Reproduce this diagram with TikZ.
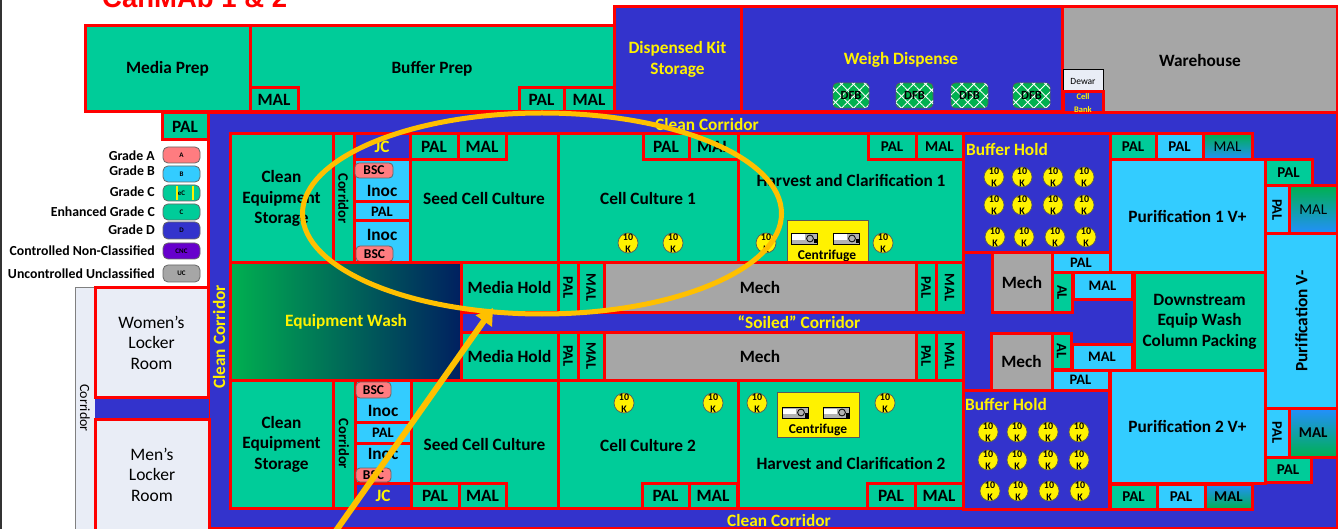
\documentclass[tikz,border=0pt]{standalone}
\usepackage{fontspec}
\setmainfont{Carlito}
\newfontfamily\titlefont{Liberation Sans}
\usetikzlibrary{arrows.meta,patterns.meta}
\definecolor{rmred}{HTML}{FF0000}
\definecolor{gradeA}{HTML}{FF7C80}
\definecolor{gradeB}{HTML}{33CCFF}
\definecolor{gradeC}{HTML}{00CC99}
\definecolor{gradeD}{HTML}{3333CC}
\definecolor{gradeCNC}{HTML}{6600CC}
\definecolor{gradeUC}{HTML}{A6A6A6}
\definecolor{paleroom}{HTML}{E9EDF6}
\definecolor{dfbgreen}{HTML}{00B050}
\definecolor{washnavy}{HTML}{002060}
\definecolor{markgold}{HTML}{FFC000}
\tikzset{
  room/.style={draw=rmred,line width=3pt},
  rmA/.style={room,fill=gradeB},
  rmC/.style={room,fill=gradeC},
  rmD/.style={room,fill=gradeD},
  rmUC/.style={room,fill=gradeUC},
  rmpale/.style={room,fill=paleroom},
  lbl/.style={inner sep=0pt,align=center,font=\fontsize{17.3}{20.5}\selectfont\bfseries},
  medlbl/.style={inner sep=0pt,align=center,font=\fontsize{15}{17}\selectfont\bfseries},
  smlbl/.style={inner sep=0pt,align=center,font=\fontsize{14.5}{16}\selectfont\bfseries},
  ylbl/.style={lbl,text=yellow},
  plainlbl/.style={inner sep=0pt,align=center,font=\fontsize{17.5}{20.5}\selectfont},
  keylbl/.style={inner sep=0pt,anchor=east,font=\fontsize{13.8}{15}\selectfont\bfseries},
  pill/.style={draw=gray!80!black,line width=0.8pt,rounded corners=5pt,
    inner sep=0pt,font=\fontsize{7}{8}\selectfont\bfseries},
  bsc/.style={draw=gray!80!black,line width=0.8pt,fill=gradeA,rounded corners=4pt},
  vessel/.style={circle,draw=gray!70!black,line width=0.7pt,fill=yellow,minimum size=20pt,
    inner sep=-4pt,align=center,font=\fontsize{10}{11.5}\selectfont\bfseries},
  dfb/.style={draw=gray!70!black,line width=0.7pt,fill=dfbgreen,rounded corners=4pt},
  centbox/.style={draw=gray!70!black,line width=0.8pt,fill=yellow},
  centicon/.pic={
    \draw [black,line width=0.8pt,fill=gray!60] (0,0) rectangle (26,11);
    \fill [white] (1,1.5) rectangle (14,7);
    \draw [black,line width=0.8pt] (19,5.5) circle (3.4);
    \fill [black] (23,6) rectangle (25.5,10.5);
  },
}
\begin{document}
\begin{tikzpicture}[x=1pt,y=-1pt]
\useasboundingbox (0,0) rectangle (1338,529);
\clip (0,0) rectangle (1338,529);
\fill [white] (0,0) rectangle (1338,529);
\fill [black!80] (0,0) rectangle (2,529);
\node [anchor=base west,inner sep=0pt,text=red,font=\titlefont\fontsize{27.5}{32}\selectfont\bfseries] (title) at (102,8) {CanMAb 1 \& 2};
% corridors behind everything
\draw [rmD] (208,113) rectangle (1337.5,528);
\draw [draw=gray,line width=1pt,fill=paleroom] (75,288) rectangle (95,530);
\node [rotate=-90,inner sep=0pt,font=\fontsize{14}{16}\selectfont] (corrleft) at (85,408) {Corridor};
\fill [gradeD] (95,395) rectangle (209,420);
% top row
\draw [rmC] (85,26) rectangle (250,112) node[midway,lbl] (mediaprep) {Media Prep};
\draw [rmC] (250,26) rectangle (614,112) node[midway,lbl] (bufferprep) {Buffer Prep};
\draw [rmC] (250,88) rectangle (298,112) node[midway,lbl] (malT1) {MAL};
\draw [rmC] (519,88) rectangle (564,112) node[midway,lbl] (palT2) {PAL};
\draw [rmC] (564,88) rectangle (614,112) node[midway,lbl] (malT2) {MAL};
\draw [rmD] (614,7) rectangle (741,112) node[midway,ylbl] (kitstore) {Dispensed Kit\\Storage};
\draw [rmD] (741,7) rectangle (1062,112);
\node [ylbl] (weigh) at (901,60) {Weigh Dispense};
\draw [rmUC] (1062,7) rectangle (1337.5,112.5);
\node [lbl] (warehouse) at (1200,60) {Warehouse};
\draw [black,line width=1pt,fill=paleroom] (1063,70) rectangle (1103,92) node[midway,inner sep=0pt,font=\fontsize{9.5}{11}\selectfont] (dewar) {Dewar};
\draw [rmD] (1063,92) rectangle (1103,113);
\node [inner sep=0pt,align=center,text=yellow,font=\fontsize{8.5}{12.5}\selectfont\bfseries] (cellbank) at (1083,103) {Cell\\Bank};
\draw [rmC] (162,113) rectangle (208,140) node[midway,lbl] (palL) {PAL};
% DFB benches
\draw [dfb,postaction={pattern={Lines[angle=45,distance=8.5pt,line width=0.9pt]},pattern color=white},postaction={pattern={Lines[angle=-45,distance=8.5pt,line width=0.9pt]},pattern color=white}] (833,83) rectangle (869,108) node[midway,inner sep=0pt,font=\fontsize{12.5}{14}\selectfont\bfseries] (dfbA) {DFB};
\draw [dfb,postaction={pattern={Lines[angle=45,distance=8.5pt,line width=0.9pt]},pattern color=white},postaction={pattern={Lines[angle=-45,distance=8.5pt,line width=0.9pt]},pattern color=white}] (896,83) rectangle (933,108) node[midway,inner sep=0pt,font=\fontsize{12.5}{14}\selectfont\bfseries] (dfbB) {DFB};
\draw [dfb,postaction={pattern={Lines[angle=45,distance=8.5pt,line width=0.9pt]},pattern color=white},postaction={pattern={Lines[angle=-45,distance=8.5pt,line width=0.9pt]},pattern color=white}] (951,83) rectangle (988,108) node[midway,inner sep=0pt,font=\fontsize{12.5}{14}\selectfont\bfseries] (dfbC) {DFB};
\draw [dfb,postaction={pattern={Lines[angle=45,distance=8.5pt,line width=0.9pt]},pattern color=white},postaction={pattern={Lines[angle=-45,distance=8.5pt,line width=0.9pt]},pattern color=white}] (1013,83) rectangle (1050,108) node[midway,inner sep=0pt,font=\fontsize{12.5}{14}\selectfont\bfseries] (dfbD) {DFB};
\node [ylbl] (cleantop) at (707,124) {Clean Corridor};
\node [ylbl] (cleanbot) at (779,520) {Clean Corridor};
\node [ylbl,rotate=90] (cleanleft) at (219,337) {Clean Corridor};
\node [ylbl] (soiled) at (799,322) {``Soiled'' Corridor};
% lockers
\draw [rmpale] (95,288) rectangle (208,397) node[midway,plainlbl] (women) {Women’s\\Locker\\Room};
\draw [rmpale] (95,419) rectangle (209,530) node[midway,plainlbl] (men) {Men’s\\Locker\\Room};
% upper suite
\draw [rmC] (230,134) rectangle (333,263) node[midway,lbl] (storeA) {Clean\\Equipment\\Storage};
\draw [rmC] (333,134) rectangle (354,263) node[midway,rotate=-90,smlbl] (corrA) {Corridor};
\draw [rmD] (354,134) rectangle (410,160) node[midway,ylbl] (jcA) {JC};
\draw [rmA] (354,160) rectangle (410,202);
\node [lbl] (inocA) at (382,191) {Inoc};
\draw [rmA] (354,202) rectangle (410,221) node[midway,smlbl] (palIA) {PAL};
\draw [rmA] (354,221) rectangle (410,263);
\node [lbl] (inocB) at (382,235) {Inoc};
\draw [bsc] (355,163) rectangle (393,178) node[midway,inner sep=0pt,font=\fontsize{13.5}{14}\selectfont\bfseries] (bscA) {BSC};
\draw [bsc] (356,246) rectangle (393,261.5) node[midway,inner sep=0pt,font=\fontsize{13.5}{14}\selectfont\bfseries] (bscB) {BSC};
\draw [rmC] (410,134) rectangle (558,263) node[midway,lbl] (seedA) {Seed Cell Culture};
\draw [rmC] (410,134) rectangle (458,160) node[midway,lbl] (palSA) {PAL};
\draw [rmC] (458,134) rectangle (506,160) node[midway,lbl] (malSA) {MAL};
\draw [rmC] (558,134) rectangle (738,263) node[midway,lbl] (cultureA) {Cell Culture 1};
\draw [rmC] (643,134) rectangle (689,160) node[midway,lbl] (palCA) {PAL};
\draw [rmC] (689,134) rectangle (738,160) node[midway,lbl] (malCA) {MAL};
\draw [rmC] (738,134) rectangle (963,263);
\node [lbl] (harvestA) at (851,180) {Harvest and Clarification 1};
\draw [rmC] (868,134) rectangle (916,160) node[midway,medlbl] (palHA) {PAL};
\draw [rmC] (916,134) rectangle (963,160) node[midway,medlbl] (malHA) {MAL};
\draw [centbox] (787,220) rectangle (868,262);
\node [inner sep=0pt,font=\fontsize{13.5}{15}\selectfont\bfseries] (centA) at (827,256) {Centrifuge};
\pic at (791,233) {centicon};
\pic at (833,233) {centicon};
\node [vessel] (vA1) at (628,243) {10\\K};
\node [vessel] (vA2) at (673,243) {10\\K};
\node [vessel] (vA3) at (766,243) {10\\K};
\node [vessel] (vA4) at (883,243) {10\\K};
% middle rows
\draw [room,left color=dfbgreen,right color=washnavy] (230,263) rectangle (461,380);
\node [ylbl] (wash) at (346,322) {Equipment Wash};
\draw [rmC] (461,263) rectangle (558,312) node[midway,lbl] (holdA) {Media Hold};
\draw [rmC] (558,263) rectangle (578,312) node[midway,rotate=-90,smlbl] (palMA) {PAL};
\draw [rmC] (578,263) rectangle (604,312) node[midway,rotate=-90,smlbl] (malMA) {MAL};
\draw [rmUC] (604,263) rectangle (916,312) node[midway,lbl] (mechA) {Mech};
\draw [rmC] (916,263) rectangle (936,312) node[midway,rotate=-90,smlbl] (palMB) {PAL};
\draw [rmC] (936,263) rectangle (963,312) node[midway,rotate=-90,smlbl] (malMB) {MAL};
\draw [rmC] (461,332) rectangle (558,380) node[midway,lbl] (holdB) {Media Hold};
\draw [rmC] (558,332) rectangle (578,380) node[midway,rotate=-90,smlbl] (palMC) {PAL};
\draw [rmC] (578,332) rectangle (604,380) node[midway,rotate=-90,smlbl] (malMC) {MAL};
\draw [rmUC] (604,332) rectangle (916,380) node[midway,lbl] (mechB) {Mech};
\draw [rmC] (916,332) rectangle (936,380) node[midway,rotate=-90,smlbl] (palMD) {PAL};
\draw [rmC] (936,332) rectangle (963,380) node[midway,rotate=-90,smlbl] (malMD) {MAL};
% lower suite
\draw [rmC] (230,380) rectangle (333,508) node[midway,lbl] (storeB) {Clean\\Equipment\\Storage};
\draw [rmC] (333,380) rectangle (355,508) node[midway,rotate=-90,smlbl] (corrB) {Corridor};
\draw [rmA] (355,380) rectangle (411,422);
\node [lbl] (inocC) at (383,411) {Inoc};
\draw [rmA] (355,422) rectangle (411,443) node[midway,smlbl] (palIB) {PAL};
\draw [rmA] (355,443) rectangle (411,483);
\node [lbl] (inocD) at (383,454) {Inoc};
\draw [rmD] (355,483) rectangle (411,508) node[midway,ylbl] (jcB) {JC};
\draw [bsc] (356,382) rectangle (391,398) node[midway,inner sep=0pt,font=\fontsize{13.5}{14}\selectfont\bfseries] (bscC) {BSC};
\draw [bsc] (356,468) rectangle (391,482) node[midway,inner sep=0pt,font=\fontsize{13.5}{14}\selectfont\bfseries] (bscD) {BSC};
\draw [rmC] (411,380) rectangle (558,508) node[midway,lbl] (seedB) {Seed Cell Culture};
\draw [rmC] (411,483) rectangle (459,508) node[midway,lbl] (palSB) {PAL};
\draw [rmC] (459,483) rectangle (506,508) node[midway,lbl] (malSB) {MAL};
\draw [rmC] (558,380) rectangle (738,508);
\node [lbl] (cultureB) at (648,445) {Cell Culture 2};
\draw [rmC] (642,483) rectangle (689,508) node[midway,lbl] (palCB) {PAL};
\draw [rmC] (689,483) rectangle (737,508) node[midway,lbl] (malCB) {MAL};
\draw [rmC] (738,380) rectangle (963,508);
\node [lbl] (harvestB) at (851,463) {Harvest and Clarification 2};
\draw [rmC] (867,483) rectangle (915,508) node[midway,lbl] (palHB) {PAL};
\draw [rmC] (915,483) rectangle (963,508) node[midway,lbl] (malHB) {MAL};
\draw [centbox] (777,392) rectangle (859,437);
\node [inner sep=0pt,font=\fontsize{13.5}{15}\selectfont\bfseries] (centB) at (818,430) {Centrifuge};
\pic at (782,407) {centicon};
\pic at (823,407) {centicon};
\node [vessel] (vB1) at (624,403) {10\\K};
\node [vessel] (vB2) at (713,403) {10\\K};
\node [vessel] (vB3) at (757,403) {10\\K};
\node [vessel] (vB4) at (885,403) {10\\K};
% buffer hold rooms
\draw [rmD] (963,134) rectangle (1110,253);
\node [ylbl,anchor=west] (bufholdA) at (966,149) {Buffer Hold};
\node [vessel] (hA1) at (994,177) {10\\K};
\node [vessel] (hA2) at (1022,177) {10\\K};
\node [vessel] (hA3) at (1053,177) {10\\K};
\node [vessel] (hA4) at (1084,177) {10\\K};
\node [vessel] (hA5) at (994,205) {10\\K};
\node [vessel] (hA6) at (1022,205) {10\\K};
\node [vessel] (hA7) at (1053,205) {10\\K};
\node [vessel] (hA8) at (1084,205) {10\\K};
\node [vessel] (hA9) at (995,237) {10\\K};
\node [vessel] (hA10) at (1024,237) {10\\K};
\node [vessel] (hA11) at (1055,237) {10\\K};
\node [vessel] (hA12) at (1086,237) {10\\K};
\draw [rmD] (963,390) rectangle (1109,509);
\node [ylbl,anchor=west] (bufholdB) at (965,404) {Buffer Hold};
\node [vessel] (hB1) at (988,432) {10\\K};
\node [vessel] (hB2) at (1017,432) {10\\K};
\node [vessel] (hB3) at (1048,432) {10\\K};
\node [vessel] (hB4) at (1079,432) {10\\K};
\node [vessel] (hB5) at (988,460) {10\\K};
\node [vessel] (hB6) at (1017,460) {10\\K};
\node [vessel] (hB7) at (1048,460) {10\\K};
\node [vessel] (hB8) at (1079,460) {10\\K};
\node [vessel] (hB9) at (990,491) {10\\K};
\node [vessel] (hB10) at (1018,491) {10\\K};
\node [vessel] (hB11) at (1049,491) {10\\K};
\node [vessel] (hB12) at (1080,491) {10\\K};
% mech and airlocks
\draw [rmUC] (992,253) rectangle (1052,312) node[midway,lbl] (mechC) {Mech};
\draw [rmA] (1052,253) rectangle (1110,273) node[midway,smlbl] (palPA) {PAL};
\draw [rmC] (1052,273) rectangle (1072,312) node[midway,rotate=-90,smlbl] (alA) {AL};
\draw [rmA] (1073,273) rectangle (1132,299) node[midway,smlbl] (malPA) {MAL};
\draw [rmUC] (991,333) rectangle (1052,390) node[midway,lbl] (mechD) {Mech};
\draw [rmC] (1052,333) rectangle (1071,369) node[midway,rotate=-90,smlbl] (alB) {AL};
\draw [rmA] (1072,344) rectangle (1132,370) node[midway,smlbl] (malPB) {MAL};
\draw [rmA] (1052,370) rectangle (1109,390) node[midway,smlbl] (palPB) {PAL};
% purification
\draw [rmA] (1110,160) rectangle (1265,273) node[midway,lbl] (purifA) {Purification 1 V+};
\draw [rmC] (1134,273) rectangle (1265,370) node[midway,lbl] (downstream) {Downstream\\Equip Wash\\Column Packing};
\draw [rmA] (1110,370) rectangle (1265,483) node[midway,lbl] (purifB) {Purification 2 V+};
\draw [rmC] (1110,134) rectangle (1156,160) node[midway,medlbl] (palUA) {PAL};
\draw [rmA] (1156,134) rectangle (1203,160) node[midway,medlbl] (palUB) {PAL};
\draw [room,top color=dfbgreen,bottom color=gradeB!70!blue] (1203,134) rectangle (1252,160) node[midway,inner sep=0pt,font=\fontsize{15}{17}\selectfont] (malUC) {MAL};
\draw [rmC] (1110,484) rectangle (1157,509) node[midway,medlbl] (palLA) {PAL};
\draw [rmA] (1157,484) rectangle (1205,509) node[midway,medlbl] (palLB) {PAL};
\draw [room,top color=gradeB!70!blue,bottom color=dfbgreen] (1205,484) rectangle (1252,509) node[midway,medlbl] (malLC) {MAL};
\draw [rmC] (1265,160) rectangle (1312,186) node[midway,medlbl] (palRA) {PAL};
\draw [rmA] (1265,186) rectangle (1289,234) node[midway,rotate=-90,smlbl] (palRB) {PAL};
\draw [room,top color=dfbgreen,bottom color=gradeB!70!blue] (1289,186) rectangle (1337.5,234) node[midway,inner sep=0pt,font=\fontsize{15}{17}\selectfont] (malRB) {MAL};
\draw [rmA] (1265,234) rectangle (1337.5,408) node[midway,rotate=90,lbl] (purifV) {Purification V-};
\draw [rmA] (1265,408) rectangle (1289,457) node[midway,rotate=-90,smlbl] (palRC) {PAL};
\draw [room,top color=gradeB!70!blue,bottom color=dfbgreen] (1289,408) rectangle (1337.5,457) node[midway,medlbl] (malRC) {MAL};
\draw [rmC] (1265,457) rectangle (1311,482) node[midway,medlbl] (palRD) {PAL};
% legend
\node [keylbl] (keyA) at (155,155.5) {Grade A};
\node [keylbl] (keyB) at (155,171) {Grade B};
\node [keylbl] (keyEC) at (155,192) {Grade C};
\node [keylbl] (keyC) at (155,212) {Enhanced Grade C};
\node [keylbl] (keyD) at (155,230) {Grade D};
\node [keylbl] (keyCNC) at (155,250.5) {Controlled Non-Classified};
\node [keylbl] (keyUC) at (155,273.5) {Uncontrolled Unclassified};
\draw [pill,fill=gradeA] (163,147) rectangle (200,163) node[midway] (pillA) {A};
\draw [pill,fill=gradeB] (163,166) rectangle (200,182) node[midway] (pillB) {B};
\draw [pill,fill=gradeC] (163,185) rectangle (200,201) node[midway] (pillEC) {eC};
\draw [yellow,line width=1.5pt] (177,185.8) -- (177,200.2);
\draw [yellow,line width=1.5pt] (193,185.8) -- (193,200.2);
\draw [pill,fill=gradeC] (163,204) rectangle (200,220) node[midway] (pillC) {C};
\draw [pill,fill=gradeD] (163,222) rectangle (200,239) node[midway] (pillD) {D};
\draw [pill,fill=gradeCNC] (163,243) rectangle (200,259) node[midway] (pillCNC) {CNC};
\draw [pill,fill=gradeUC] (163,265) rectangle (200,282) node[midway] (pillUC) {UC};
% highlight on top of the plan
\draw [markgold,line width=5pt] (542,213.5) ellipse (239.5 and 100.5);
\coordinate (arrowtail) at (333,535);
\coordinate (arrowtip) at (493,308);
\draw [markgold,line width=6pt,-{Triangle[width=19pt,length=16pt]}] (arrowtail) -- (arrowtip);
\end{tikzpicture}
\end{document}
